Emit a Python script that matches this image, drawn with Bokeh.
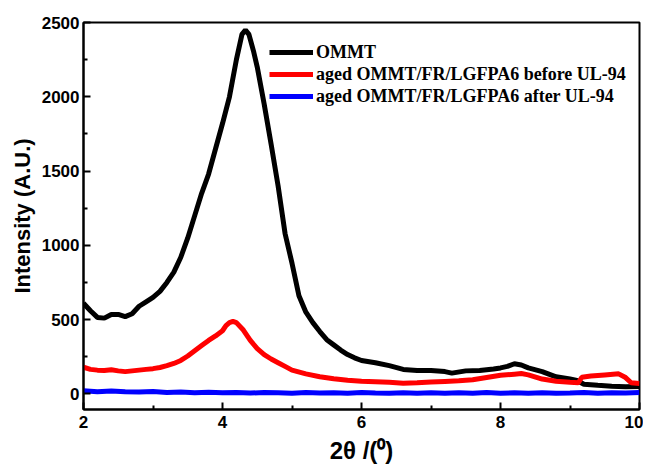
from bokeh.plotting import figure
from bokeh.models import Range1d, FixedTicker, Legend, LegendItem
from bokeh.embed import file_html
from bokeh.resources import INLINE

# ---- data ----
ommt_x = [2.0, 2.1, 2.2, 2.3, 2.4, 2.5, 2.6, 2.7, 2.8, 2.9, 3.0, 3.1, 3.2, 3.3, 3.4, 3.5,
          3.6, 3.7, 3.8, 3.9, 4.0, 4.1, 4.2, 4.28, 4.33, 4.38, 4.45, 4.5, 4.6, 4.7, 4.8,
          4.9, 5.0, 5.1, 5.2, 5.3, 5.4, 5.5, 5.6, 5.7, 5.8, 5.9, 6.0, 6.2, 6.4, 6.6, 6.8,
          7.0, 7.2, 7.3, 7.5, 7.7, 7.9, 8.0, 8.1, 8.2, 8.3, 8.4, 8.6, 8.8, 9.0, 9.1, 9.2,
          9.4, 9.6, 9.8, 10.0]
ommt_y = [610, 560, 515, 510, 535, 535, 520, 540, 590, 620, 650, 690, 750, 820, 920, 1050,
          1200, 1350, 1480, 1650, 1820, 2000, 2250, 2420, 2450, 2420, 2300, 2200, 1950, 1680, 1400,
          1080, 880, 660, 550, 480, 420, 365, 330, 295, 265, 243, 225, 210, 190, 165, 158,
          157, 150, 140, 155, 158, 168, 175, 185, 203, 195, 175, 150, 115, 100, 90, 65,
          58, 52, 48, 50]

before_x = [2.0, 2.1, 2.2, 2.3, 2.4, 2.5, 2.6, 2.7, 2.8, 2.9, 3.0, 3.1, 3.2, 3.3, 3.4, 3.5,
            3.6, 3.7, 3.8, 3.9, 4.0, 4.05, 4.1, 4.15, 4.2, 4.3, 4.4, 4.5, 4.6, 4.7, 4.8, 4.9,
            5.0, 5.2, 5.4, 5.6, 5.8, 6.0, 6.2, 6.4, 6.6, 6.8, 7.0, 7.2, 7.4, 7.6, 7.8, 8.0,
            8.2, 8.3, 8.4, 8.6, 8.8, 9.0, 9.12, 9.17, 9.3, 9.5, 9.7, 9.8, 9.88, 10.0]
before_y = [180, 165, 160, 158, 162, 155, 150, 155, 160, 165, 170, 178, 190, 205, 225, 255,
            290, 325, 360, 390, 425, 460, 480, 488, 480, 430, 360, 305, 265, 235, 210, 185,
            160, 135, 115, 102, 92, 85, 82, 78, 72, 75, 80, 84, 88, 95, 110, 125,
            133, 137, 128, 100, 85, 78, 75, 112, 120, 128, 135, 110, 75, 70]

after_x = [2.0, 2.2, 2.4, 2.6, 2.8, 3.0, 3.2, 3.4, 3.6, 3.8, 4.0, 4.2, 4.4, 4.6, 4.8, 5.0,
           5.2, 5.4, 5.6, 5.8, 6.0, 6.2, 6.4, 6.6, 6.8, 7.0, 7.2, 7.4, 7.6, 7.8, 8.0, 8.2,
           8.4, 8.6, 8.8, 9.0, 9.2, 9.4, 9.6, 9.8, 10.0]
after_y = [22, 15, 20, 14, 12, 16, 10, 12, 8, 11, 7, 10, 6, 9, 8, 5,
           9, 6, 8, 5, 9, 6, 4, 8, 5, 7, 4, 8, 5, 9, 4, 7,
           5, 8, 4, 6, 9, 5, 8, 6, 9]

series_labels = ["OMMT", "aged OMMT/FR/LGFPA6 before UL-94", "aged OMMT/FR/LGFPA6 after UL-94"]
x_ticks = [2, 4, 6, 8, 10]
x_minor = [3, 5, 7, 9]
y_ticks = [0, 500, 1000, 1500, 2000, 2500]
y_minor = [250, 750, 1250, 1750, 2250]

p = figure(frame_width=556, frame_height=387, output_backend="svg", toolbar_location=None,
           x_range=Range1d(2, 10), y_range=Range1d(-105, 2500),
           min_border_left=83, min_border_right=4, min_border_top=22, min_border_bottom=0)
p.background_fill_color = "white"
p.border_fill_color = "white"
p.outline_line_color = "black"
p.outline_line_width = 2
p.xgrid.visible = False
p.ygrid.visible = False

r1 = p.line(ommt_x, ommt_y, line_color="black", line_width=5)
r2 = p.line(before_x, before_y, line_color="#ff0000", line_width=5)
r3 = p.line(after_x, after_y, line_color="#0000ff", line_width=5)

for ax in (p.xaxis[0], p.yaxis[0]):
    ax.axis_line_width = 2
    ax.major_tick_line_width = 2
    ax.minor_tick_line_width = 2
    ax.major_tick_in = 7
    ax.major_tick_out = 0
    ax.minor_tick_in = 4
    ax.minor_tick_out = 0
    ax.major_label_text_font = "Liberation Sans"
    ax.major_label_text_font_style = "bold"
    ax.major_label_text_font_size = "17px"
    ax.major_label_text_color = "black"
    ax.axis_label_text_color = "black"

p.xaxis.ticker = FixedTicker(ticks=x_ticks, minor_ticks=x_minor)
p.yaxis.ticker = FixedTicker(ticks=y_ticks, minor_ticks=y_minor)
p.xaxis.major_label_standoff = 6
p.yaxis.major_label_standoff = 4

p.xaxis.axis_label = "2θ /(⁰)"
p.xaxis.axis_label_text_font = "Liberation Sans"
p.xaxis.axis_label_text_font_style = "bold"
p.xaxis.axis_label_text_font_size = "24px"
p.xaxis.axis_label_standoff = 6

p.yaxis.axis_label = "Intensity (A.U.)"
p.yaxis.axis_label_text_font = "Liberation Sans"
p.yaxis.axis_label_text_font_style = "bold"
p.yaxis.axis_label_text_font_size = "22px"
p.yaxis.axis_label_standoff = 4

legend = Legend(items=[LegendItem(label=series_labels[0], renderers=[r1]),
                       LegendItem(label=series_labels[1], renderers=[r2]),
                       LegendItem(label=series_labels[2], renderers=[r3])],
                location=(186, 302))
legend.border_line_color = None
legend.background_fill_alpha = 0
legend.padding = 0
legend.margin = 0
legend.spacing = 0
legend.glyph_width = 44
legend.glyph_height = 22
legend.label_height = 22
legend.label_standoff = 3
legend.label_text_font = "Liberation Serif"
legend.label_text_font_style = "bold"
legend.label_text_font_size = "18px"
legend.label_text_color = "black"
p.add_layout(legend, "center")

open("out.html", "w").write(file_html(p, INLINE))
